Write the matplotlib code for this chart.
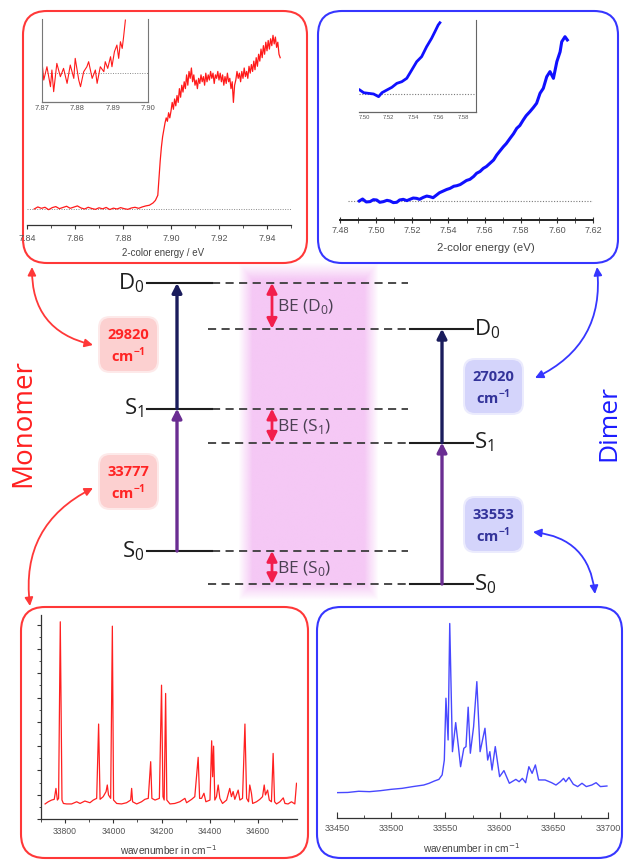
import numpy as np
import matplotlib
matplotlib.use("Agg")
import matplotlib.pyplot as plt
from matplotlib.patches import FancyBboxPatch, FancyArrowPatch
from matplotlib.ticker import MultipleLocator, FormatStrFormatter
from matplotlib.colors import to_rgb

plt.rcParams['font.family'] = ['Open Sans', 'DejaVu Sans']

# ---------------- data ----------------
# monomer 2-colour threshold photoionisation scan (main)
mono_pes_ev = [7.843, 7.8445, 7.846, 7.8475, 7.849, 7.8505, 7.852, 7.8535, 7.855, 7.8565,
               7.858, 7.8595, 7.861, 7.8625, 7.864, 7.8655, 7.867, 7.8685, 7.870, 7.8715,
               7.873, 7.8745, 7.876, 7.8775, 7.879, 7.8805, 7.882, 7.8835, 7.885, 7.8865,
               7.888, 7.8895, 7.891, 7.8925, 7.8935, 7.8945, 7.895, 7.8955, 7.896, 7.8965,
               7.897, 7.8975, 7.898, 7.8985, 7.899, 7.8995, 7.900, 7.9005, 7.901, 7.9015,
               7.902, 7.9025, 7.903, 7.9035, 7.904, 7.9045, 7.905, 7.9055, 7.906, 7.9065,
               7.907, 7.9075, 7.908, 7.9085, 7.909, 7.9095, 7.910, 7.9105, 7.911, 7.9115,
               7.912, 7.9125, 7.913, 7.9135, 7.914, 7.9145, 7.915, 7.9155, 7.916, 7.9165,
               7.917, 7.9175, 7.918, 7.9185, 7.919, 7.9195, 7.920, 7.9205, 7.921, 7.9215,
               7.922, 7.9225, 7.923, 7.9235, 7.924, 7.9245, 7.925, 7.9255, 7.926, 7.9265,
               7.927, 7.9275, 7.928, 7.9285, 7.929, 7.9295, 7.930, 7.9305, 7.931, 7.9315,
               7.932, 7.9325, 7.933, 7.9335, 7.934, 7.9345, 7.935, 7.9355, 7.936, 7.9365,
               7.937, 7.9375, 7.938, 7.9385, 7.939, 7.9395, 7.940, 7.9405, 7.941, 7.9415,
               7.942, 7.9425, 7.943, 7.9435, 7.944, 7.9445, 7.945, 7.9455]
mono_pes_sig = [0.000, 0.012, 0.004, 0.010, -0.004, 0.008, 0.014, 0.002, 0.009, 0.016,
                0.004, 0.011, 0.018, 0.006, 0.000, 0.010, 0.003, -0.002, 0.007, 0.001,
                0.009, -0.003, 0.005, 0.000, 0.008, 0.002, -0.002, 0.006, 0.010, 0.004,
                0.012, 0.018, 0.022, 0.035, 0.050, 0.080, 0.180, 0.280, 0.360, 0.420,
                0.460, 0.500, 0.530, 0.510, 0.560, 0.530, 0.570, 0.620, 0.580, 0.640,
                0.600, 0.660, 0.620, 0.700, 0.650, 0.720, 0.680, 0.740, 0.700, 0.780,
                0.720, 0.800, 0.760, 0.820, 0.740, 0.780, 0.720, 0.750, 0.700, 0.760,
                0.730, 0.780, 0.740, 0.770, 0.720, 0.790, 0.740, 0.780, 0.750, 0.800,
                0.760, 0.790, 0.730, 0.780, 0.760, 0.800, 0.750, 0.790, 0.740, 0.780,
                0.720, 0.770, 0.730, 0.790, 0.740, 0.760, 0.700, 0.740, 0.620, 0.720,
                0.750, 0.800, 0.760, 0.790, 0.740, 0.800, 0.760, 0.820, 0.770, 0.800,
                0.760, 0.830, 0.790, 0.840, 0.800, 0.860, 0.810, 0.880, 0.830, 0.900,
                0.860, 0.930, 0.880, 0.950, 0.900, 0.970, 0.920, 0.980, 0.930, 0.990,
                0.950, 1.010, 0.960, 1.000, 0.940, 0.970, 0.900, 0.880]
# monomer inset (threshold region)
mono_inset_ev = [7.8700, 7.8705, 7.8714, 7.8724, 7.8728, 7.8733, 7.8742, 7.8752, 7.8761, 7.8771,
                 7.8780, 7.8790, 7.8794, 7.8804, 7.8809, 7.8818, 7.8827, 7.8832, 7.8842, 7.8851,
                 7.8856, 7.8865, 7.8875, 7.8879, 7.8886, 7.8894, 7.8898, 7.8905, 7.8912, 7.8917,
                 7.8922, 7.8927, 7.8931, 7.8936]
mono_inset_sig = [0.214, -0.132, 0.119, -0.258, 0.057, -0.352, 0.182, -0.069, 0.088, -0.195,
                  0.151, -0.101, 0.277, -0.132, -0.258, 0.025, 0.119, 0.214, -0.101, 0.057,
                  -0.195, 0.119, 0.025, 0.214, 0.088, 0.308, 0.119, 0.403, 0.528, 0.277,
                  0.591, 0.465, 0.686, 1.000]
# dimer 2-colour scan (main)
dimer_pes_ev = [7.4907, 7.4925, 7.4945, 7.4966, 7.4985, 7.5003, 7.502, 7.504, 7.506, 7.5077,
                7.5095, 7.5114, 7.513, 7.515, 7.517, 7.5187, 7.5205, 7.5224, 7.524, 7.5261,
                7.528, 7.5298, 7.5315, 7.5335, 7.535, 7.5372, 7.539, 7.5409, 7.543, 7.5446,
                7.5465, 7.5482, 7.550, 7.5519, 7.554, 7.5556, 7.5575, 7.5593, 7.561, 7.563,
                7.565, 7.5667, 7.5685, 7.5704, 7.572, 7.5741, 7.576, 7.5778, 7.5795, 7.5814,
                7.583, 7.5851, 7.587, 7.5888, 7.5907, 7.5925, 7.5944, 7.5962, 7.5981, 7.600,
                7.6018, 7.6027, 7.6045, 7.6058]
dimer_pes_sig = [0.000, 0.012, -0.006, -0.004, 0.008, 0.006, -0.008, -0.004, 0.004, 0.000,
                 -0.010, -0.008, 0.006, 0.010, 0.002, 0.010, 0.018, 0.016, 0.010, 0.022,
                 0.030, 0.026, 0.020, 0.037, 0.050, 0.061, 0.070, 0.077, 0.090, 0.093,
                 0.100, 0.112, 0.125, 0.132, 0.150, 0.169, 0.180, 0.199, 0.210, 0.230,
                 0.250, 0.280, 0.305, 0.331, 0.350, 0.382, 0.410, 0.443, 0.460, 0.494,
                 0.520, 0.545, 0.570, 0.596, 0.657, 0.687, 0.758, 0.789, 0.748, 0.850,
                 0.910, 0.971, 1.002, 0.982]
# dimer inset
dimer_inset_ev = [7.4966, 7.4998, 7.5038, 7.5078, 7.5118, 7.5145, 7.5185, 7.5225, 7.5265, 7.5305,
                  7.5345, 7.5385, 7.5425, 7.5465, 7.5505, 7.5545, 7.5572, 7.5598, 7.5612]
dimer_inset_sig = [0.056, 0.018, 0.009, 0.000, -0.037, 0.018, 0.056, 0.093, 0.148, 0.171,
                   0.218, 0.333, 0.449, 0.519, 0.657, 0.773, 0.866, 0.958, 0.990]
# monomer R2PI spectrum
mono_wn = [33717, 33730, 33744, 33755, 33762, 33768, 33773, 33780, 33787, 33793,
           33806, 33827, 33848, 33862, 33882, 33903, 33917, 33931, 33939, 33945,
           33958, 33970, 33975, 33980, 33989, 33996, 34001, 34014, 34034, 34055,
           34072, 34076, 34080, 34097, 34117, 34131, 34145, 34155, 34160, 34173,
           34191, 34200, 34206, 34211, 34217, 34222, 34235, 34255, 34276, 34297,
           34304, 34325, 34338, 34352, 34358, 34366, 34376, 34384, 34401, 34408,
           34412, 34416, 34421, 34428, 34435, 34442, 34453, 34470, 34483, 34490,
           34497, 34504, 34518, 34525, 34536, 34546, 34553, 34561, 34566, 34573,
           34578, 34594, 34608, 34619, 34626, 34631, 34640, 34647, 34656, 34663,
           34669, 34677, 34691, 34705, 34712, 34725, 34739, 34753, 34760]
mono_int = [0.62, 0.71, 0.78, 0.81, 1.26, 0.78, 0.85, 8.12, 0.78, 0.64,
            0.62, 0.62, 0.71, 0.64, 0.74, 0.67, 0.78, 0.85, 3.91, 0.81,
            0.92, 1.13, 1.40, 0.99, 0.85, 7.94, 0.78, 0.64, 0.62, 0.67,
            0.78, 1.26, 0.71, 0.62, 0.71, 0.81, 0.85, 2.36, 0.85, 0.78,
            0.85, 5.51, 0.92, 0.78, 5.17, 0.78, 0.62, 0.64, 0.71, 0.85,
            0.67, 0.81, 0.92, 2.54, 0.85, 0.85, 1.06, 0.71, 0.78, 3.22,
            1.74, 3.00, 0.78, 0.92, 1.40, 0.85, 0.64, 0.78, 1.26, 0.92,
            1.13, 0.81, 1.19, 0.78, 0.85, 3.91, 0.85, 0.71, 1.40, 1.06,
            0.64, 0.71, 0.81, 0.92, 1.40, 0.99, 1.19, 0.78, 0.71, 2.70,
            0.71, 0.62, 0.71, 0.87, 0.64, 0.62, 0.71, 0.62, 1.47]
# dimer R2PI spectrum
dimer_wn = [33450, 33460, 33470, 33480, 33490, 33500, 33510, 33520, 33530, 33535,
            33540, 33544, 33547, 33549, 33550.5, 33552.5, 33554, 33556.5, 33559.5, 33562,
            33564, 33567, 33569, 33571, 33573, 33576, 33579, 33582, 33586.5, 33589,
            33591, 33593, 33596, 33600, 33604, 33609, 33615, 33618, 33621, 33624,
            33627, 33630, 33633, 33636, 33642, 33648, 33652, 33656, 33659, 33661,
            33664, 33668, 33672, 33676, 33680, 33685, 33689, 33693, 33699]
dimer_int = [0.130, 0.131, 0.137, 0.135, 0.140, 0.147, 0.152, 0.161, 0.169, 0.178,
             0.190, 0.198, 0.221, 0.297, 0.614, 0.400, 0.997, 0.340, 0.489, 0.366,
             0.263, 0.357, 0.366, 0.568, 0.332, 0.468, 0.699, 0.340, 0.460, 0.297,
             0.340, 0.246, 0.366, 0.212, 0.243, 0.178, 0.198, 0.186, 0.203, 0.181,
             0.263, 0.229, 0.272, 0.195, 0.195, 0.181, 0.169, 0.186, 0.203, 0.186,
             0.208, 0.173, 0.161, 0.178, 0.161, 0.169, 0.181, 0.161, 0.164]
# transition energies (cm^-1)
monomer_s1_cm = 33777
monomer_ion_cm = 29820
dimer_s1_cm = 33553
dimer_ion_cm = 27020
level_names = ["S0", "S1", "D0"]

# ---------------- layout ----------------
W, H = 624, 860
fig = plt.figure(figsize=(W / 100, H / 100), dpi=100)


def rect(x0, y0, x1, y1):
    return [x0 / W, 1 - y1 / H, (x1 - x0) / W, (y1 - y0) / H]


bg = fig.add_axes([0, 0, 1, 1], zorder=0)
bg.axis('off')

RED = '#ff3838'
BLUE = '#3636ff'
TICKC = '#333333'
LBLC = '#555555'
TF = 'Liberation Sans'

# pink shaded band
ny, nx = 200, 120
yy = np.linspace(0, 1, ny)[:, None]
xx = np.linspace(0, 1, nx)[None, :]
alpha = np.clip(np.minimum(np.minimum(xx / 0.10, (1 - xx) / 0.10),
                           np.minimum(yy / 0.05, (1 - yy) / 0.05)), 0, 1)
rgba = np.zeros((ny, nx, 4))
rgba[..., :3] = to_rgb('#f5c8f5')
rgba[..., 3] = alpha
bg.imshow(rgba, extent=[238, 379, 601, 262], aspect='auto', zorder=0, interpolation='bilinear')
bg.set_xlim(0, W)
bg.set_ylim(H, 0)

# panel frames
for (x0, y0, x1, y1, c) in [(23, 11, 307, 263, RED), (318, 11, 618, 263, BLUE),
                            (21, 607, 308, 858, RED), (317, 607, 622, 858, BLUE)]:
    bg.add_patch(FancyBboxPatch((x0, y0), x1 - x0, y1 - y0,
                                boxstyle='round,pad=0,rounding_size=24',
                                fill=False, ec=c, lw=1.5, zorder=3))


def style_axis(ax, major, minor, fmt, direction, size, pad, ylocs=False):
    ax.patch.set_alpha(0)
    ax.xaxis.set_major_locator(MultipleLocator(major))
    ax.xaxis.set_minor_locator(MultipleLocator(minor))
    ax.xaxis.set_major_formatter(FormatStrFormatter(fmt))
    ax.tick_params(axis='x', which='major', direction=direction, length=3, width=0.8,
                   color=TICKC, labelsize=size, labelcolor=LBLC, pad=pad, labelfontfamily=TF)
    ax.tick_params(axis='x', which='minor', direction=direction, length=2, width=0.6,
                   color=TICKC)
    for s in ['top', 'right', 'left']:
        ax.spines[s].set_visible(False)
    ax.spines['bottom'].set_color(TICKC)
    ax.spines['bottom'].set_linewidth(0.9)
    if not ylocs:
        ax.set_yticks([])


# --- top-left: monomer threshold scan ---
ax1 = fig.add_axes(rect(27, 30, 291, 225), zorder=2)
ax1.plot(mono_pes_ev, mono_pes_sig, color='#ff1a1a', lw=0.9)
ax1.axhline(0, color='#8a8a8a', lw=0.7, ls=(0, (1, 1.5)), zorder=0)
ax1.set_xlim(7.84, 7.95)
ax1.set_ylim(-0.093, 1.041)
style_axis(ax1, 0.02, 0.01, '%.2f', 'out', 6.5, 3.5)
bg.text(163, 253, '2-color energy / eV', fontsize=7, color='#444444', family=TF,
        ha='center', va='center', zorder=4)

ax1i = fig.add_axes(rect(42, 19, 148, 102), zorder=3)
ax1i.plot(mono_inset_ev, mono_inset_sig, color='#ff1a1a', lw=0.8)
ax1i.axhline(0, color='#8a8a8a', lw=0.7, ls=(0, (1, 1.5)), zorder=0)
ax1i.set_xlim(7.87, 7.90)
ax1i.set_ylim(-0.547, 1.02)
style_axis(ax1i, 0.01, 0.01, '%.2f', 'out', 5.5, 2)
ax1i.tick_params(axis='x', which='both', length=0)
for s in ['left', 'right']:
    ax1i.spines[s].set_visible(True)
    ax1i.spines[s].set_color('#777777')
    ax1i.spines[s].set_linewidth(0.8)
ax1i.spines['bottom'].set_color('#777777')

# --- top-right: dimer threshold scan ---
ax2 = fig.add_axes(rect(340, 28, 593, 220), zorder=2)
ax2.plot(dimer_pes_ev, dimer_pes_sig, color='#1010ff', lw=2.2)
ax2.axhline(0, color='#7a7a7a', lw=0.8, ls=(0, (1, 1.5)), zorder=0, xmin=0.03)
ax2.set_xlim(7.48, 7.62)
ax2.set_ylim(-0.116, 1.055)
style_axis(ax2, 0.02, 0.01, '%.2f', 'inout', 6.5, 2)
ax2.tick_params(axis='x', which='major', length=5)
ax2.tick_params(axis='x', which='minor', length=4)
ax2.spines['bottom'].set_color('#222222')
ax2.spines['bottom'].set_linewidth(1.4)
bg.text(486, 248, '2-color energy (eV)', fontsize=8.2, color='#444444', family=TF,
        ha='center', va='center', zorder=4)

ax2i = fig.add_axes(rect(359, 20, 476, 112), zorder=3)
ax2i.plot(dimer_inset_ev, dimer_inset_sig, color='#1010ff', lw=2.0)
ax2i.axhline(0, color='#7a7a7a', lw=0.8, ls=(0, (1, 1.5)), zorder=0)
ax2i.set_xlim(7.496, 7.5903)
ax2i.set_ylim(-0.25, 1.028)
style_axis(ax2i, 0.02, 0.01, '%.2f', 'out', 4.2, 2)
ax2i.tick_params(axis='x', which='both', length=0)
ax2i.spines['right'].set_visible(True)
ax2i.spines['right'].set_color('#666666')
ax2i.spines['bottom'].set_color('#666666')

# --- bottom-left: monomer R2PI ---
ax3 = fig.add_axes(rect(41, 615, 297, 819), zorder=2)
ax3.plot(mono_wn, mono_int, color='#ff2020', lw=0.9)
ax3.set_xlim(33700, 34762)
ax3.set_ylim(0, 8.4)
style_axis(ax3, 200, 100, '%d', 'out', 6.2, 3, ylocs=True)
ax3.spines['left'].set_visible(True)
ax3.spines['left'].set_color(TICKC)
ax3.spines['left'].set_linewidth(0.9)
ax3.yaxis.set_major_locator(MultipleLocator(1))
ax3.yaxis.set_minor_locator(MultipleLocator(0.5))
ax3.tick_params(axis='y', which='major', direction='out', length=3, width=0.8,
                color=TICKC, labelleft=False)
ax3.tick_params(axis='y', which='minor', direction='out', length=1.8, width=0.6, color=TICKC)
bg.text(168, 850, 'wavenumber in cm$^{-1}$', fontsize=7.3, color='#444444', family=TF,
        ha='center', va='center', zorder=4)

# --- bottom-right: dimer R2PI ---
ax4 = fig.add_axes(rect(337, 612, 608, 818), zorder=2)
ax4.plot(dimer_wn, dimer_int, color='#4848ff', lw=1.0)
ax4.set_xlim(33450, 33700)
ax4.set_ylim(0, 1.056)
style_axis(ax4, 50, 25, '%d', 'in', 6.6, 4)
ax4.tick_params(axis='x', which='major', length=4)
bg.text(471, 848, 'wavenumber in cm$^{-1}$', fontsize=7.3, color='#444444', family=TF,
        ha='center', va='center', zorder=4)

# ---------------- energy level diagram ----------------
k = 0.004214  # px per cm^-1
mono_S0, dimer_S0 = 551, 584
mono_y = [mono_S0, mono_S0 - monomer_s1_cm * k, mono_S0 - (monomer_s1_cm + monomer_ion_cm) * k]
dimer_y = [dimer_S0, dimer_S0 - dimer_s1_cm * k, dimer_S0 - (dimer_s1_cm + dimer_ion_cm) * k]

DASH = dict(color='#3c3c3c', lw=1.3, ls=(0, (4.5, 3)), zorder=2)
for name, ym, yd in zip(level_names, mono_y, dimer_y):
    bg.plot([147, 212], [ym, ym], color='#1e1e1e', lw=1.5, zorder=3)
    bg.plot([212, 408], [ym, ym], **DASH)
    bg.plot([208, 410], [yd, yd], **DASH)
    bg.plot([410, 473], [yd, yd], color='#1e1e1e', lw=1.5, zorder=3)
    lab = r'%s$_\mathregular{%s}$' % (name[0], name[1])
    bg.text(144, ym, lab, fontsize=16, color='#1e1e1e', ha='right', va='center', zorder=4)
    bg.text(474, yd, lab, fontsize=16, color='#1e1e1e', ha='left', va='center', zorder=4)

NAVY = '#1a1c5c'
PURPLE = '#6a2d92'
for x, ys in [(177, mono_y), (442, dimer_y)]:
    bg.add_patch(FancyArrowPatch((x, ys[0]), (x, ys[1]),
                                 arrowstyle='-|>,head_length=0.55,head_width=0.28',
                                 mutation_scale=10, color=PURPLE, lw=2.4,
                                 shrinkA=0, shrinkB=0, zorder=4))
    bg.add_patch(FancyArrowPatch((x, ys[1]), (x, ys[2]),
                                 arrowstyle='-|>,head_length=0.55,head_width=0.28',
                                 mutation_scale=10, color=NAVY, lw=2.4,
                                 shrinkA=0, shrinkB=0, zorder=4))

# binding energy arrows
BE_RED = '#f21e4c'
for name, ym, yd in zip(level_names, mono_y, dimer_y):
    bg.add_patch(FancyArrowPatch((272, ym), (272, yd),
                                 arrowstyle='<|-|>,head_length=0.6,head_width=0.3',
                                 mutation_scale=10, color=BE_RED, lw=2.0,
                                 shrinkA=0, shrinkB=0, zorder=4))
    bg.text(277, (ym + yd) / 2 + 1, r'BE (%s$_\mathregular{%s}$)' % (name[0], name[1]),
            fontsize=12.5, color='#4a3f52', ha='left', va='center', zorder=4)

# energy labels in rounded boxes
boxes = [(100, 318, monomer_ion_cm, '#fcd0d0', '#ff2424'),
         (100, 455, monomer_s1_cm, '#fcd0d0', '#ff2424'),
         (465, 360, dimer_ion_cm, '#d4d4fb', '#33339a'),
         (465, 498, dimer_s1_cm, '#d4d4fb', '#33339a')]
for (x0, y0, val, fc, tc) in boxes:
    bg.add_patch(FancyBboxPatch((x0 - 2, y0 - 2), 61, 57,
                                boxstyle='round,pad=0,rounding_size=12',
                                fc=fc, ec='none', alpha=0.45, zorder=3))
    bg.add_patch(FancyBboxPatch((x0, y0), 57, 53,
                                boxstyle='round,pad=0,rounding_size=10',
                                fc=fc, ec='none', zorder=3))
    bg.text(x0 + 28.5, y0 + 17, '%d' % val, fontsize=10.5, fontweight='bold',
            color=tc, ha='center', va='center', zorder=4)
    bg.text(x0 + 28.5, y0 + 37, r'cm$^{\mathregular{-1}}$', fontsize=10.5, fontweight='bold',
            color=tc, ha='center', va='center', zorder=4)

# side labels
bg.text(23, 423, 'Monomer', rotation=90, fontsize=20, color='#ff2020',
        ha='center', va='center', zorder=4)
bg.text(609, 423, 'Dimer', rotation=90, fontsize=19, color='#1c1cff',
        ha='center', va='center', zorder=4)

# curved connector arrows
CURV = 'arc3,rad=%s'
for (pa, pb, rad, c) in [((32, 267), (93, 345), 0.4, RED),
                         ((93, 488), (30, 606), 0.35, RED),
                         ((597, 267), (535, 378), -0.35, BLUE),
                         ((533, 532), (595, 594), -0.4, BLUE)]:
    bg.add_patch(FancyArrowPatch(pa, pb, connectionstyle=CURV % rad,
                                 arrowstyle='<|-|>,head_length=0.6,head_width=0.3',
                                 mutation_scale=8, color=c, lw=1.3,
                                 shrinkA=0, shrinkB=0, zorder=4))

fig.savefig('out.png', dpi=100)
